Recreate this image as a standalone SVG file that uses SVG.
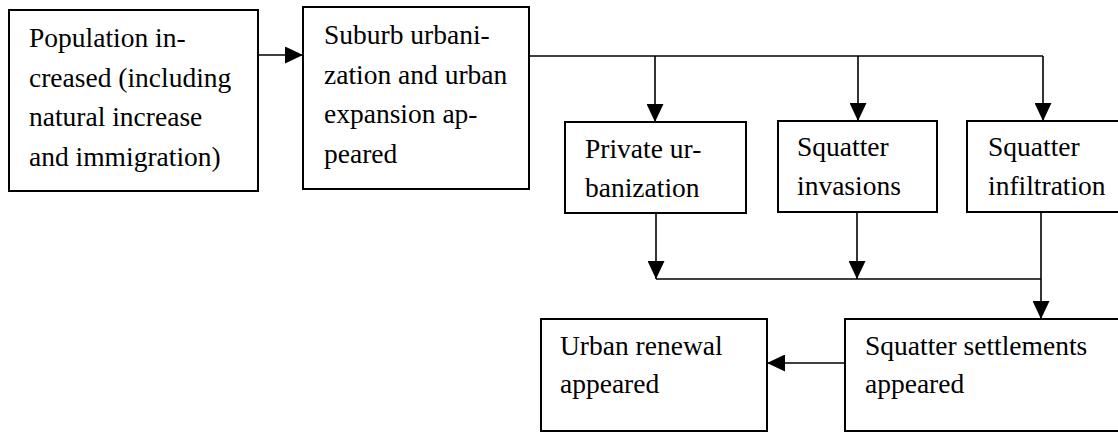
<svg xmlns="http://www.w3.org/2000/svg" width="1118" height="432" viewBox="0 0 1118 432">
<style>
.box{fill:#fff;stroke:#000;stroke-width:2}
.t{font-family:"Liberation Serif","Times New Roman",serif;font-size:27.5px;fill:#000}
.c{fill:none;stroke:#000;stroke-width:1.6}
</style>
<defs>
<marker id="ah" markerUnits="userSpaceOnUse" markerWidth="18" markerHeight="17" refX="18" refY="8.5" orient="auto">
<path d="M0,0 L18,8.5 L0,17 z" fill="#000"/>
</marker>
</defs>
<rect width="1118" height="432" fill="#fff"/>
<g id="n1">
<rect class="box" x="9" y="10" width="249" height="181"/>
<text class="t" x="29" y="47">Population in-</text>
<text class="t" x="29" y="86.5">creased (including</text>
<text class="t" x="29" y="126">natural increase</text>
<text class="t" x="29" y="165.5">and immigration)</text>
</g>
<g id="n2">
<rect class="box" x="303" y="7" width="226" height="182"/>
<text class="t" x="324" y="44">Suburb urbani-</text>
<text class="t" x="324" y="83.5">zation and urban</text>
<text class="t" x="324" y="123">expansion ap-</text>
<text class="t" x="324" y="162.5">peared</text>
</g>
<g id="n3">
<rect class="box" x="565" y="122" width="181" height="91"/>
<text class="t" x="585" y="158">Private ur-</text>
<text class="t" x="585" y="197">banization</text>
</g>
<g id="n4">
<rect class="box" x="778" y="121" width="159" height="91"/>
<text class="t" x="797" y="156">Squatter</text>
<text class="t" x="797" y="195">invasions</text>
</g>
<g id="n5">
<rect class="box" x="967" y="121" width="160" height="91"/>
<text class="t" x="988" y="156">Squatter</text>
<text class="t" x="988" y="195">infiltration</text>
</g>
<g id="n6">
<rect class="box" x="845" y="319" width="282" height="112"/>
<text class="t" x="865" y="355">Squatter settlements</text>
<text class="t" x="865" y="393">appeared</text>
</g>
<g id="n7">
<rect class="box" x="541" y="319" width="226" height="112"/>
<text class="t" x="560" y="355">Urban renewal</text>
<text class="t" x="560" y="393">appeared</text>
</g>
<g id="connectors">
<line class="c" x1="258" y1="55" x2="303" y2="55" marker-end="url(#ah)"/>
<polyline class="c" points="529,56 1043,56"/>
<line class="c" x1="655" y1="56" x2="655" y2="122" marker-end="url(#ah)"/>
<line class="c" x1="858" y1="56" x2="858" y2="121" marker-end="url(#ah)"/>
<line class="c" x1="1043" y1="56" x2="1043" y2="121" marker-end="url(#ah)"/>
<line class="c" x1="656" y1="213" x2="656" y2="279" marker-end="url(#ah)"/>
<line class="c" x1="857" y1="212" x2="857" y2="279" marker-end="url(#ah)"/>
<polyline class="c" points="656,279 1041,279"/>
<line class="c" x1="1041" y1="212" x2="1041" y2="319" marker-end="url(#ah)"/>
<line class="c" x1="845" y1="363" x2="767" y2="363" marker-end="url(#ah)"/>
</g>
</svg>
